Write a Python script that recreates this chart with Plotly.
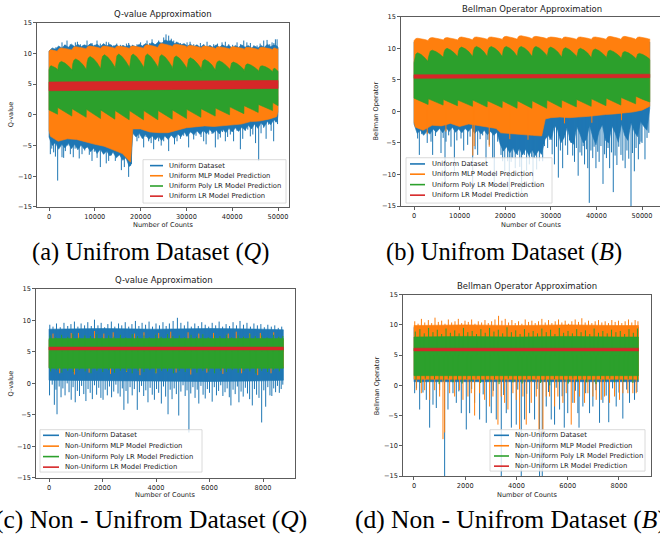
import plotly.graph_objects as go

W, H = 660, 548
BLUE, ORANGE, GREEN, RED = "#1f77b4", "#ff7f0e", "#2ca02c", "#d62728"

# ======================= DATA =======================
# ---- Panel (a): Uniform dataset, Q-value ----
A_CUSPS = [0, 1900, 5030, 8160, 11290, 14420, 17550, 20680, 23810, 26940, 30070, 33200, 36330, 39460, 42590, 45720, 48850]
A_END = 50000
A_PLY_TOP_CUSP = [7.3, 7.2, 7.3, 7.4, 7.5, 7.5, 7.5, 7.5, 7.5, 7.4, 7.4, 7.3, 7.3, 7.2, 7.1, 7.0, 7.0]
A_PLY_TOP_PEAK = [8.0, 8.7, 9.1, 9.5, 9.8, 9.9, 9.9, 9.9, 9.8, 9.6, 9.3, 9.0, 8.8, 8.6, 8.3, 8.0, 7.6]
A_PLY_BOT_START = [0.8, 1.2, 1.0, 0.9, 0.8, 0.7, 0.7, 0.7, 0.7, 0.8, 0.9, 1.0, 1.1, 1.3, 1.5, 1.7, 2.0]
A_PLY_BOT_END = [0.1, -0.2, -0.4, -0.6, -0.7, -0.8, -0.8, -0.8, -0.7, -0.6, -0.4, -0.2, 0.0, 0.2, 0.4, 0.7, 1.5]
A_MLP_TOP_CUSP = [10.3, 10.5, 10.7, 10.8, 10.8, 10.8, 10.8, 10.9, 11.1, 11.1, 10.9, 10.8, 10.7, 10.7, 10.6, 10.6, 10.6]
A_MLP_TOP_PEAK = [10.6, 10.9, 11.1, 11.2, 11.2, 11.2, 11.2, 11.4, 11.6, 11.5, 11.3, 11.2, 11.1, 11.1, 11.0, 11.0, 10.9]
A_X = [0, 300, 2000, 4000, 6000, 8000, 10000, 12000, 14000, 16000, 17800, 18300, 20000, 22000, 24000,
       26000, 28000, 30000, 32000, 34000, 36000, 38000, 40000, 42000, 44000, 46000, 48000, 49700, 50000]
A_MLP_LO = [-2.5, -3.5, -4.3, -3.9, -4.0, -4.4, -4.8, -5.1, -5.7, -6.3, -7.7, -2.3, -2.3, -2.8, -2.9,
            -2.9, -2.5, -2.1, -2.0, -1.8, -1.9, -1.7, -1.6, -1.5, -1.1, -1.0, -0.7, -0.3, 0.5]
A_DS_X = [0, 700, 1400, 2100, 2800, 3500, 4200, 4900, 5600, 6300, 7000, 7700, 8400, 9100, 9800, 10500,
          11200, 11900, 12600, 13300, 14000, 14700, 15400, 16100, 16800, 17500, 17900, 18300, 19000, 19700,
          20400, 21100, 21800, 22500, 23200, 23900, 24600, 25300, 26000, 26700, 27400, 28100, 28800, 29500,
          30200, 30900, 31600, 32300, 33000, 33700, 34400, 35100, 35800, 36500, 37200, 37900, 38600, 39300,
          40000, 40700, 41400, 42100, 42800, 43500, 44200, 44900, 45600, 46300, 47000, 47700, 48400, 49100,
          49800, 50000]
A_DS_HI = [10.4, 10.9, 10.7, 11.2, 10.9, 11.4, 11.0, 11.5, 11.1, 11.5, 11.1, 11.4, 11.2, 11.6, 11.2, 11.5,
           11.1, 11.6, 11.2, 11.5, 11.1, 11.4, 11.0, 11.3, 11.1, 11.4, 11.1, 11.3, 11.1, 11.5,
           11.2, 11.6, 11.3, 11.8, 11.4, 11.9, 11.6, 12.2, 12.0, 12.1, 11.6, 11.8, 11.4, 11.6,
           11.2, 11.5, 11.1, 11.4, 11.0, 11.4, 11.0, 11.3, 11.0, 11.4, 11.0, 11.4, 11.1, 11.3,
           10.9, 11.3, 11.0, 11.4, 11.0, 11.3, 10.9, 11.2, 10.9, 11.3, 11.0, 11.5, 11.1, 11.4,
           11.2, 11.0]
A_DS_LO = [-3.6, -5.0, -4.5, -5.6, -4.8, -5.4, -4.6, -5.5, -4.8, -5.7, -4.9, -5.6, -5.2, -6.0, -5.4, -6.3,
           -5.6, -6.4, -5.9, -6.7, -6.1, -7.0, -6.5, -7.4, -7.0, -8.4, -8.2, -3.0, -3.6, -3.0,
           -3.9, -3.2, -4.0, -3.4, -4.1, -3.5, -4.2, -3.4, -4.0, -3.3, -3.9, -3.1, -3.6, -2.8,
           -3.5, -2.7, -3.3, -2.6, -3.2, -2.5, -3.1, -2.4, -3.0, -2.5, -3.1, -2.3, -2.9, -2.2,
           -2.8, -2.1, -2.7, -2.0, -2.5, -1.7, -2.3, -1.5, -2.2, -1.3, -1.9, -1.1, -1.6, -0.8,
           -1.2, 0.0]
A_LR_X = [0, 10000, 20000, 30000, 40000, 50000]
A_LR_HI = [5.35, 5.4, 5.45, 5.5, 5.55, 5.6]
A_LR_LO = [3.93, 4.0, 4.08, 4.15, 4.22, 4.3]
A_DS_UP = [(1500, 11.0), (2840, 11.8), (3400, 11.4), (3930, 12.1), (4660, 11.5), (5200, 11.2), (5750, 11.8),
           (6200, 11.9), (6840, 11.5), (7500, 11.3), (8300, 12.1), (8900, 11.5), (9390, 11.7), (10000, 11.4),
           (10480, 12.1), (11200, 11.6), (11940, 11.5), (12500, 11.9), (13030, 11.8), (13600, 11.4),
           (14120, 11.3), (14800, 11.6), (15580, 11.4), (16200, 11.3), (16900, 11.6), (17400, 11.7),
           (18200, 11.4), (19220, 11.5), (20000, 11.8), (20700, 11.4), (21400, 12.1), (22000, 11.7),
           (22500, 12.3), (23200, 11.5), (23950, 12.1), (24500, 11.8), (25040, 12.6), (25550, 13.1),
           (26130, 12.9), (26700, 12.4), (27230, 12.1), (27800, 11.9), (28680, 11.7), (29400, 11.5),
           (30140, 11.8), (30800, 11.9), (31600, 11.5), (32300, 11.4), (33050, 11.7), (33800, 11.5),
           (34510, 11.9), (35200, 11.3), (35960, 11.5), (36800, 11.6), (37780, 11.8), (38500, 11.9),
           (39240, 11.5), (40100, 11.4), (41060, 11.8), (41800, 11.5), (42520, 12.1), (43200, 11.8),
           (43970, 11.7), (44700, 11.3), (45430, 11.3), (46100, 11.6), (46880, 12.1), (47610, 12.2),
           (48200, 11.5), (48700, 11.8), (49100, 11.7), (49430, 12.3), (49800, 12.3)]
A_DS_DN = [(150, -3.7), (290, -6.4), (600, -5.5), (1020, -6.1), (1400, -6.8), (1890, -10.7), (2300, -5.2),
           (2840, -6.9), (3200, -7.0), (3570, -5.9), (4100, -5.0), (4660, -6.4), (5300, -6.9), (5700, -5.5),
           (6110, -4.8), (6600, -7.1), (7210, -6.4), (7800, -5.8), (8300, -5.3), (8800, -6.5), (9390, -7.5),
           (9900, -6.0), (10500, -7.0), (11210, -8.5), (11940, -6.4), (12500, -7.9), (13030, -7.5),
           (13600, -6.6), (14480, -7.5), (15210, -5.3), (15800, -9.0), (16450, -8.5), (16900, -7.2),
           (17390, -10.1), (18000, -8.0), (19210, -4.3), (19600, -3.8), (19940, -2.9), (20670, -5.3),
           (21200, -3.6), (21760, -4.3), (22300, -4.6), (22850, -5.6), (23400, -3.5), (23940, -4.3),
           (24500, -5.0), (25040, -4.3), (25600, -3.7), (26130, -5.9), (26860, -3.4), (27400, -4.8),
           (27950, -4.3), (28700, -3.9), (29400, -3.4), (30000, -3.5), (30490, -5.3), (31000, -2.9),
           (31590, -4.0), (32100, -3.4), (32680, -2.8), (33200, -3.6), (33770, -4.3), (34300, -4.8),
           (34860, -3.2), (35600, -3.1), (36320, -5.3), (36900, -4.0), (37410, -3.7), (37900, -2.8),
           (38500, -4.3), (39000, -3.6), (39590, -3.2), (40300, -4.3), (41050, -2.6), (41780, -5.6),
           (42300, -3.9), (42870, -2.6), (43400, -2.4), (43960, -3.5), (44500, -3.2), (45100, -4.6),
           (45780, -7.5), (46300, -3.0), (46870, -2.1), (47400, -3.9), (47960, -1.6), (48500, -2.6),
           (49050, -4.3), (49500, -1.2), (49900, -1.5)]

# ---- Panel (b): Uniform dataset, Bellman operator ----
B_CUSPS = [0, 3140, 6430, 9580, 12870, 16080, 19370, 22650, 25900, 29150, 32400, 35650, 38900, 42150, 45400, 48650]
B_END = 51700
B_PLY_TOP_CUSP = [7.7, 8.5, 8.6, 8.7, 8.7, 8.7, 8.7, 8.7, 8.7, 8.6, 8.6, 8.5, 8.5, 8.4, 8.3, 8.2]
B_PLY_TOP_PEAK = [9.3, 9.7, 10.0, 10.2, 10.3, 10.3, 10.3, 10.3, 10.3, 10.2, 10.1, 10.0, 9.9, 9.7, 9.5, 9.2]
B_PLY_BOT_START = [2.1, 2.0, 1.9, 1.8, 1.8, 1.7, 1.7, 1.7, 1.7, 1.8, 1.8, 1.9, 2.0, 2.1, 2.2, 2.4]
B_PLY_BOT_END = [1.1, 1.0, 0.9, 0.8, 0.7, 0.6, 0.5, 0.5, 0.5, 0.6, 0.7, 0.8, 0.9, 1.0, 1.2, 1.5]
B_MLP_TOP_CUSP = [11.2, 11.3, 11.3, 11.3, 11.4, 11.4, 11.4, 11.5, 11.5, 11.5, 11.4, 11.4, 11.4, 11.4, 11.4, 11.4]
B_MLP_TOP_PEAK = [11.6, 11.7, 11.7, 11.8, 11.8, 11.8, 11.9, 12.0, 11.9, 11.8, 11.8, 11.8, 11.8, 11.9, 11.9, 11.8]
B_X = [0, 300, 2000, 4000, 6000, 8000, 10000, 12000, 14000, 16000, 18000, 19000, 20000, 22000, 24000,
       26000, 28000, 28800, 30000, 32000, 34000, 36000, 38000, 40000, 42000, 44000, 46000, 48000, 50000, 51700]
B_MLP_LO = [-1.7, -2.5, -3.0, -2.2, -2.3, -1.9, -2.4, -2.0, -2.3, -2.5, -2.7, -3.4, -3.5, -3.6, -3.7,
            -3.8, -3.9, -1.2, -1.0, -0.9, -1.0, -0.9, -0.8, -0.7, -0.5, -0.4, -0.3, -0.1, 0.2, 0.8]
B_DS_HI = [11.0, 11.1, 11.0, 11.1, 11.0, 11.1, 11.0, 11.1, 11.2, 11.1, 11.2, 11.1, 11.2, 11.2, 11.3,
           11.2, 11.3, 11.2, 11.2, 11.1, 11.2, 11.1, 11.2, 11.1, 11.2, 11.1, 11.2, 11.1, 11.0, 11.0]
B_DS_LX = [0, 700, 1400, 2100, 2800, 3500, 4200, 4900, 5600, 6300, 7000, 7700, 8400, 9100, 9800, 10500,
           11200, 11900, 12600, 13300, 14000, 14700, 15400, 16100, 16800, 17500, 18200, 18900, 19600, 20300,
           21000, 21700, 22400, 23100, 23800, 24500, 25200, 25900, 26600, 27300, 28000, 28700, 29400, 30100,
           30800, 31500, 32200, 32900, 33600, 34300, 35000, 35700, 36400, 37100, 37800, 38500, 39200, 39900,
           40600, 41300, 42000, 42700, 43400, 44100, 44800, 45500, 46200, 46900, 47600, 48300, 49000, 49700,
           50400, 51100, 51700]
B_DS_LO = [-2.0, -3.5, -3.0, -3.8, -3.2, -3.6, -2.8, -3.3, -2.7, -3.4, -2.6, -3.2, -2.5, -3.3, -2.8, -3.4,
           -2.7, -3.2, -2.6, -3.5, -2.9, -3.6, -3.0, -3.7, -3.2, -3.8, -3.3, -5.2, -6.3, -5.6,
           -6.6, -5.8, -6.8, -5.9, -6.9, -6.0, -7.0, -6.1, -7.0, -6.2, -6.8, -4.5, -3.8, -4.5,
           -2.2, -3.0, -5.0, -4.2, -2.5, -4.8, -5.2, -2.4, -3.6, -5.0, -4.4, -2.2, -4.0, -5.3,
           -3.1, -2.1, -4.6, -5.0, -2.3, -3.4, -4.9, -2.0, -3.8, -4.6, -1.8, -3.2, -4.0, -1.6,
           -2.4, -3.0, 0.5]
B_LR_X = [0, 25000, 51700]
B_LR_HI = [5.8, 5.85, 5.9]
B_LR_LO = [5.25, 5.3, 5.35]
B_DS_DN = [(800, -4.3), (1170, -6.9), (1700, -3.6), (2270, -3.0), (2900, -5.0), (3730, -4.8), (4090, -6.9),
           (4700, -3.9), (5190, -2.9), (5920, -6.6), (6400, -4.2), (6800, -11.5), (7020, -4.8), (7600, -3.8),
           (8110, -5.6), (8850, -9.5), (9400, -4.6), (10310, -4.3), (10900, -6.2), (11770, -5.3),
           (12300, -4.0), (12870, -13.0), (13400, -6.0), (13960, -6.9), (14500, -4.4), (15060, -3.8),
           (15790, -7.9), (16200, -4.5), (16520, -5.3), (17250, -7.4), (17600, -12.0), (18350, -4.8),
           (19080, -6.9), (19440, -7.9), (19900, -9.5), (20540, -7.9), (20900, -12.5), (21300, -8.0),
           (21640, -7.4), (22200, -9.0), (22730, -6.9), (23200, -8.8), (23600, -13.0), (24200, -6.9),
           (24700, -9.4), (25290, -8.4), (25800, -7.2), (26100, -12.0), (26390, -7.4), (26900, -9.2),
           (27490, -7.9), (27900, -6.8), (28220, -7.9), (28600, -5.5), (29310, -5.8), (29800, -4.5),
           (30300, -6.8), (30800, -8.4), (31250, -5.6), (31650, -10.5), (32100, -6.2), (32600, -9.0),
           (33200, -5.4), (33700, -6.9), (34100, -4.6), (34430, -5.0), (34800, -7.0), (35200, -8.0),
           (35600, -5.8), (36000, -10.2), (36400, -6.5), (36800, -7.0), (37100, -5.5), (37400, -8.4),
           (37800, -6.0), (38100, -9.0), (38440, -14.5), (38800, -6.2), (39200, -7.4), (39500, -5.6),
           (39900, -9.0), (40300, -6.4), (40600, -8.0), (41000, -5.5), (41450, -11.5), (41800, -6.8),
           (42200, -7.4), (42550, -5.8), (42900, -9.0), (43300, -6.5), (43700, -12.8), (44100, -7.0),
           (44500, -8.5), (44900, -5.6), (45390, -6.9), (45800, -7.8), (46300, -9.0), (46700, -6.2),
           (47100, -7.5), (47590, -15.0), (47900, -6.6), (48320, -9.5), (48700, -5.8), (49200, -7.6),
           (49500, -5.2), (49780, -4.8), (50000, -5.0), (50650, -7.6), (51100, -4.2), (51500, -3.4)]
B_MLP_DN = [(2900, -3.6), (7000, -3.2), (12900, -7.0), (13200, -5.5), (16500, -5.6), (21000, -4.4),
            (25000, -4.5), (33000, -1.9), (39000, -1.8), (45500, -1.4)]

# ---- Panel (c): Non-uniform dataset, Q-value ----
C_X = [0, 2000, 4000, 6000, 8000, 8760]
C_DS_HI = [8.6, 8.7, 8.6, 8.7, 8.6, 8.5]
C_DS_LO = [0.5, 0.4, 0.4, 0.3, 0.4, 0.5]
C_MLP_HI = [6.9, 6.9, 7.0, 6.9, 6.9, 6.9]
C_MLP_LO = [2.5, 2.5, 2.4, 2.5, 2.5, 2.5]
C_PLY_HI = [7.1, 7.1, 7.2, 7.1, 7.1, 7.1]
C_PLY_LO = [2.4, 2.4, 2.3, 2.4, 2.4, 2.4]
C_LR_HI = [5.75, 5.76, 5.75, 5.76, 5.75, 5.75]
C_LR_LO = [5.3, 5.31, 5.3, 5.31, 5.3, 5.3]
C_DS_UP = [(30, 9.3), (150, 9.0), (280, 9.5), (420, 8.9), (560, 9.6), (700, 9.1), (820, 9.4), (950, 9.8),
           (1080, 9.0), (1200, 9.5), (1330, 9.2), (1450, 9.7), (1580, 9.1), (1700, 10.1), (1830, 9.2),
           (1950, 9.6), (2080, 8.9), (2200, 9.4), (2330, 9.8), (2460, 9.0), (2600, 9.5), (2720, 9.2),
           (2850, 9.7), (2980, 9.0), (3100, 9.4), (3230, 9.9), (3360, 9.1), (3480, 9.6), (3610, 9.3),
           (3740, 9.8), (3870, 9.0), (4000, 9.5), (4130, 9.2), (4260, 9.7), (4380, 9.1), (4500, 9.5),
           (4640, 9.9), (4800, 10.4), (4930, 9.6), (5060, 9.2), (5190, 9.8), (5320, 9.0), (5450, 9.5),
           (5580, 9.1), (5710, 9.7), (5840, 9.3), (5970, 9.0), (6100, 9.6), (6230, 9.2), (6360, 9.8),
           (6490, 9.0), (6620, 9.4), (6750, 9.1), (6880, 9.7), (7010, 9.2), (7140, 9.9), (7270, 9.3),
           (7400, 9.6), (7530, 9.0), (7660, 9.5), (7790, 9.2), (7920, 9.4), (8050, 8.9), (8180, 9.3),
           (8310, 9.0), (8440, 9.2), (8570, 8.8), (8700, 9.0)]
C_DS_DN = [(20, -1.9), (120, -0.2), (200, -3.4), (260, -1.0), (300, -4.9), (380, -0.5), (450, -2.2),
           (520, -0.8), (600, -1.9), (680, 0.0), (750, -1.4), (830, -2.6), (900, -0.6), (980, -3.0),
           (1060, -1.2), (1140, -2.0), (1220, -0.4), (1300, -1.7), (1380, -2.8), (1460, -0.9), (1540, -1.5),
           (1620, -2.5), (1700, -0.3), (1780, -1.8), (1860, -0.7), (1940, -2.3), (2020, -2.6), (2100, -1.0),
           (2180, -1.9), (2260, -0.5), (2340, -2.2), (2420, -1.3), (2500, -0.2), (2580, -1.6), (2660, -2.1),
           (2740, -0.8), (2800, -4.2), (2880, -1.2), (2950, -3.2), (3030, -0.6), (3110, -1.9), (3190, -0.9),
           (3300, -4.2), (3380, -1.4), (3460, -0.4), (3540, -2.0), (3620, -1.1), (3700, -3.0), (3780, -0.7),
           (3860, -1.8), (3940, -2.6), (4020, -0.9), (4100, -1.5), (4200, -3.2), (4280, -0.5), (4360, -2.1),
           (4450, -4.9), (4530, -1.0), (4600, -2.5), (4680, -0.8), (4760, -1.7), (4850, -5.1), (4930, -1.3),
           (5010, -0.3), (5090, -2.0), (5160, -1.1), (5230, -7.8), (5300, -1.6), (5380, -0.6), (5460, -2.3),
           (5540, -1.0), (5600, -3.2), (5680, -0.4), (5760, -1.8), (5840, -2.4), (5920, -0.9), (6000, -1.5),
           (6100, -2.9), (6180, -0.6), (6260, -1.9), (6340, -1.2), (6420, -0.3), (6500, -2.0), (6580, -1.4),
           (6660, -0.8), (6740, -2.2), (6800, -3.5), (6880, -1.0), (6960, -1.7), (7040, -0.5), (7100, -3.0),
           (7180, -1.3), (7260, -2.1), (7340, -0.7), (7420, -1.6), (7500, -2.5), (7600, -3.5), (7680, -0.9),
           (7760, -1.8), (7850, -2.3), (7950, -6.2), (8030, -1.1), (8100, -3.7), (8180, -0.6), (8260, -1.9),
           (8330, -2.0), (8400, -0.8), (8470, -1.4), (8540, -0.4), (8610, -1.5), (8680, -0.9), (8740, -0.2)]
C_MLP_UP = [(150, 7.9), (830, 8.0), (1100, 8.0), (1700, 8.3), (2050, 7.9), (2400, 8.1), (3200, 7.9),
            (3550, 8.1), (4100, 8.0), (4550, 8.2), (5200, 8.1), (5600, 7.9), (6150, 8.0), (6700, 7.9),
            (7000, 8.2), (7500, 7.9), (7900, 8.0), (8400, 8.1)]
C_MLP_DN = [(400, 1.6), (950, 1.4), (1500, 1.7), (2300, 1.5), (2900, 1.8), (3400, 1.3), (4000, 1.6),
            (4750, 1.7), (5300, 1.4), (5900, 1.7), (6500, 1.5), (7200, 1.6), (7800, 1.3), (8300, 1.6)]
C_PLY_UP = [(40, 7.6), (250, 7.3), (470, 7.7), (700, 7.4), (890, 7.8), (1130, 7.3), (1340, 7.6), (1550, 7.5),
            (1790, 7.8), (1990, 7.3), (2230, 7.6), (2430, 7.4), (2670, 7.7), (2870, 7.3), (3110, 7.8),
            (3310, 7.5), (3550, 7.6), (3750, 7.3), (3990, 7.7), (4190, 7.4), (4430, 7.8), (4630, 7.5),
            (4870, 7.6), (5070, 7.3), (5310, 7.7), (5510, 7.4), (5750, 7.8), (5950, 7.3), (6190, 7.6),
            (6390, 7.5), (6630, 7.7), (6830, 7.3), (7070, 7.6), (7270, 7.4), (7510, 7.8), (7710, 7.5),
            (7950, 7.6), (8150, 7.3), (8390, 7.7), (8590, 7.4), (8740, 7.5)]
C_PLY_DN = [(60, 1.9), (270, 2.1), (480, 1.7), (700, 2.0), (910, 1.8), (1130, 2.1), (1350, 1.9), (1570, 1.6),
            (1790, 2.0), (2010, 1.8), (2230, 2.1), (2450, 1.7), (2670, 2.0), (2890, 1.9), (3110, 1.6),
            (3330, 2.0), (3550, 1.8), (3770, 2.1), (3990, 1.7), (4210, 2.0), (4430, 1.9), (4650, 1.6),
            (4870, 2.0), (5090, 1.8), (5310, 2.1), (5530, 1.7), (5750, 2.0), (5970, 1.9), (6190, 1.6),
            (6410, 2.0), (6630, 1.8), (6850, 2.1), (7070, 1.7), (7290, 2.0), (7510, 1.9), (7730, 1.6),
            (7950, 2.0), (8170, 1.8), (8390, 2.1), (8610, 1.9)]

# ---- Panel (d): Non-uniform dataset, Bellman operator ----
D_X = [0, 2000, 4000, 6000, 8000, 8760]
D_DS_HI = [9.6, 9.7, 9.6, 9.7, 9.6, 9.6]
D_DS_LO = [0.6, 0.5, 0.6, 0.5, 0.6, 0.6]
D_MLP_HI = [9.9, 10.0, 9.9, 10.0, 9.9, 9.9]
D_MLP_LO = [1.0, 1.0, 0.9, 1.0, 1.0, 1.0]
D_PLY_HI = [8.0, 8.1, 8.0, 8.1, 8.0, 8.0]
D_PLY_LO = [1.6, 1.6, 1.5, 1.6, 1.6, 1.6]
D_LR_HI = [6.15, 6.16, 6.15, 6.16, 6.15, 6.15]
D_LR_LO = [5.7, 5.71, 5.7, 5.71, 5.7, 5.7]
D_DS_DN = [(26, -1.3), (100, -0.5), (221, -4.0), (350, -1.2), (481, -2.4), (611, -7.0), (741, -3.2),
           (871, -3.75), (1000, -0.8), (1196, -15.5), (1326, -4.0), (1521, -1.3), (1651, -2.9), (1750, -1.0),
           (1846, -4.6), (2041, -7.3), (2171, -4.6), (2250, -0.6), (2366, -2.9), (2561, -5.65), (2700, -1.5),
           (2821, -6.2), (3016, -4.6), (3100, -0.9), (3211, -5.65), (3406, -15.5), (3500, -1.6), (3601, -4.6),
           (3800, -7.0), (3991, -6.5), (4050, -0.7), (4186, -15.5), (4316, -5.65), (4400, -1.4), (4511, -4.6),
           (4706, -5.65), (4800, -0.6), (4901, -15.5), (5005, -15.5), (5161, -3.5), (5250, -1.1), (5356, -5.65),
           (5486, -6.5), (5550, -0.4), (5681, -4.0), (5780, -1.8), (5865, -7.0), (6000, -4.6), (6201, -2.9),
           (6300, -0.9), (6396, -4.6), (6440, -7.0), (6591, -3.5), (6700, -1.3), (6851, -4.6), (6981, -3.5),
           (7100, -0.8), (7241, -6.2), (7371, -2.9), (7500, -1.7), (7600, -6.1), (7750, -0.5), (7891, -3.5),
           (8000, -1.2), (8150, -5.5), (8300, -0.7), (8411, -2.9), (8606, -2.4), (8700, -1.1)]
D_MLP_UP = [(30, 10.6), (160, 10.2), (290, 11.0), (420, 10.4), (560, 10.8), (690, 10.3), (820, 11.2),
            (950, 10.5), (1080, 10.7), (1210, 10.2), (1340, 10.9), (1470, 10.4), (1600, 10.6), (1730, 11.0),
            (1860, 10.3), (1990, 10.7), (2120, 10.5), (2250, 10.9), (2380, 10.2), (2510, 10.6), (2640, 10.4),
            (2770, 10.8), (2900, 10.3), (3030, 10.6), (3160, 10.9), (3300, 11.5), (3430, 10.7), (3560, 11.0),
            (3690, 10.4), (3820, 10.8), (3950, 10.3), (4080, 10.6), (4210, 10.2), (4340, 10.9), (4470, 10.5),
            (4600, 10.7), (4730, 10.3), (4860, 10.6), (4990, 11.0), (5120, 10.4), (5250, 10.8), (5380, 10.3),
            (5510, 10.6), (5640, 10.9), (5770, 10.4), (5900, 10.7), (6030, 10.2), (6160, 10.6), (6290, 10.9),
            (6420, 10.5), (6550, 11.1), (6680, 10.4), (6810, 10.7), (6940, 10.3), (7070, 10.6), (7200, 10.8),
            (7330, 10.4), (7460, 10.6), (7590, 10.3), (7720, 10.8), (7850, 10.5), (7980, 10.7), (8110, 10.3),
            (8240, 10.6), (8370, 10.9), (8500, 10.4), (8630, 10.8), (8740, 10.6)]
D_MLP_DN = [(91, -0.8), (286, -1.3), (416, -0.8), (611, -2.4), (806, -0.8), (1001, -1.85), (1131, -8.9),
            (1196, -7.8), (1391, -1.3), (1586, -1.85), (1781, -0.8), (1911, -2.4), (2106, -1.85), (2236, -1.3),
            (2366, -5.0), (2561, -1.3), (2756, -2.4), (2951, -3.5), (3081, -1.85), (3276, -6.5), (3406, -1.85),
            (3536, -2.9), (3666, -4.0), (3861, -1.3), (3991, -2.4), (4121, -7.3), (4251, -1.85), (4381, -6.5),
            (4576, -2.9), (4771, -1.85), (4877, -7.8), (5033, -7.8), (5161, -1.85), (5291, -1.85), (5486, -3.5),
            (5616, -1.85), (5811, -2.9), (5941, -1.3), (6136, -6.5), (6266, -2.9), (6461, -1.85), (6656, -2.9),
            (6786, -1.3), (6981, -1.85), (7111, -2.4), (7306, -2.4), (7436, -1.85), (7631, -2.9), (7826, -1.85),
            (8021, -2.4), (8151, -1.3), (8346, -1.3), (8541, -1.3), (8671, -1.3)]
D_PLY_UP = [(50, 8.9), (230, 9.3), (400, 8.6), (570, 9.5), (740, 8.8), (910, 9.2), (1080, 8.5), (1250, 9.4),
            (1420, 8.7), (1590, 9.1), (1760, 8.6), (1930, 9.5), (2100, 8.8), (2270, 9.0), (2440, 8.5),
            (2610, 9.3), (2780, 8.7), (2950, 9.5), (3120, 8.9), (3290, 9.2), (3460, 8.6), (3630, 9.6),
            (3800, 8.8), (3970, 9.1), (4140, 8.5), (4310, 9.3), (4480, 8.7), (4650, 9.0), (4820, 8.6),
            (4990, 9.4), (5160, 8.8), (5330, 9.2), (5500, 8.5), (5670, 9.5), (5840, 8.7), (6010, 9.0),
            (6180, 8.6), (6350, 9.3), (6520, 8.8), (6690, 9.1), (6860, 8.5), (7030, 9.4), (7200, 8.7),
            (7370, 9.0), (7540, 8.6), (7710, 9.2), (7880, 8.8), (8050, 9.0), (8220, 8.5), (8390, 9.3),
            (8560, 8.7), (8720, 9.4)]
D_PLY_DN = [(80, 0.9), (260, 0.4), (440, 1.1), (620, 0.6), (800, 1.0), (980, 0.2), (1160, 0.8), (1340, 1.1),
            (1520, 0.5), (1700, 0.9), (1880, 0.3), (2060, 1.0), (2240, 0.7), (2420, 1.1), (2600, 0.4),
            (2780, 0.9), (2960, 0.6), (3140, 1.0), (3320, 0.2), (3500, 0.8), (3680, 1.1), (3860, 0.5),
            (4040, 0.9), (4220, 0.3), (4400, 1.0), (4580, 0.7), (4760, 1.1), (4940, 0.4), (5120, 0.9),
            (5300, 0.0), (5480, 1.0), (5660, 0.6), (5840, 0.9), (6020, 0.3), (6200, 1.1), (6380, 0.7),
            (6560, 1.0), (6740, 0.5), (6920, 0.9), (7100, 0.2), (7280, 1.0), (7460, 0.7), (7640, 1.1),
            (7820, 0.5), (8000, 0.9), (8180, 0.6), (8360, 1.0), (8540, 0.4), (8720, 0.8)]

LEG_UNI = ["Uniform Dataset", "Uniform MLP Model Prediction", "Uniform Poly LR Model Prediction",
           "Uniform LR Model Prediction"]
LEG_NON = ["Non-Uniform Dataset", "Non-Uniform MLP Model Prediction", "Non-Uniform Poly LR Model Prediction",
           "Non-Uniform LR Model Prediction"]
X_TICKS_U = [0, 10000, 20000, 30000, 40000, 50000]
X_TICKS_N = [0, 2000, 4000, 6000, 8000]
Y_TICKS = [-15, -10, -5, 0, 5, 10, 15]

# ======================= HELPERS =======================
TOP_SHAPE = [(0.0, 0.0), (0.05, 0.55), (0.13, 0.88), (0.26, 1.0), (0.5, 0.82), (0.75, 0.5), (0.97, 0.15)]
BOT_SHAPE = [(0.0, 0.0), (0.5, 0.55), (0.985, 1.0)]


def dome_edge(cusps, end, a_vals, b_vals, shape, end_val):
    xs, ys = [], []
    for i, c0 in enumerate(cusps):
        c1 = cusps[i + 1] if i + 1 < len(cusps) else end
        w = c1 - c0
        for f, r in shape:
            xs.append(c0 + f * w)
            ys.append(a_vals[i] + r * (b_vals[i] - a_vals[i]))
    xs.append(end)
    ys.append(end_val)
    return xs, ys


def band(hx, hy, lx, ly, color, ax):
    xs = list(hx) + list(lx)[::-1] + [hx[0]]
    ys = list(hy) + list(ly)[::-1] + [hy[0]]
    return go.Scatter(x=xs, y=ys, mode="lines", fill="toself", fillcolor=color,
                      line=dict(color=color, width=0.6), xaxis=ax[0], yaxis=ax[1],
                      showlegend=False, hoverinfo="skip")


def spikes(pairs, base, color, ax, width=1.0):
    xs, ys = [], []
    for x, tip in pairs:
        xs += [x, x, None]
        ys += [base, tip, None]
    return go.Scatter(x=xs, y=ys, mode="lines", line=dict(color=color, width=width),
                      xaxis=ax[0], yaxis=ax[1], showlegend=False, hoverinfo="skip")


fig = go.Figure()

# ----- panel a -----
ax = ("x", "y")
fig.add_trace(band(A_DS_X, A_DS_HI, A_DS_X, A_DS_LO, BLUE, ax))
fig.add_trace(spikes(A_DS_UP, 8, BLUE, ax))
fig.add_trace(spikes(A_DS_DN, 3, BLUE, ax))
mx, my = dome_edge(A_CUSPS, A_END, A_MLP_TOP_CUSP, A_MLP_TOP_PEAK, TOP_SHAPE, 10.8)
fig.add_trace(band(mx, my, A_X, A_MLP_LO, ORANGE, ax))
gx, gy = dome_edge(A_CUSPS, A_END, A_PLY_TOP_CUSP, A_PLY_TOP_PEAK, TOP_SHAPE, 7.1)
bx, by = dome_edge(A_CUSPS, A_END, A_PLY_BOT_START, A_PLY_BOT_END, BOT_SHAPE, 1.5)
fig.add_trace(band(gx, gy, bx, by, GREEN, ax))
fig.add_trace(band(A_LR_X, A_LR_HI, A_LR_X, A_LR_LO, RED, ax))

# ----- panel b -----
ax = ("x2", "y2")
fig.add_trace(band(B_X, B_DS_HI, B_DS_LX, B_DS_LO, BLUE, ax))
fig.add_trace(spikes(B_DS_DN, 3, BLUE, ax))
mx, my = dome_edge(B_CUSPS, B_END, B_MLP_TOP_CUSP, B_MLP_TOP_PEAK, TOP_SHAPE, 11.5)
fig.add_trace(band(mx, my, B_X, B_MLP_LO, ORANGE, ax))
fig.add_trace(spikes(B_MLP_DN, 3, ORANGE, ax))
gx, gy = dome_edge(B_CUSPS, B_END, B_PLY_TOP_CUSP, B_PLY_TOP_PEAK, TOP_SHAPE, 8.1)
bx, by = dome_edge(B_CUSPS, B_END, B_PLY_BOT_START, B_PLY_BOT_END, BOT_SHAPE, 1.5)
fig.add_trace(band(gx, gy, bx, by, GREEN, ax))
fig.add_trace(band(B_LR_X, B_LR_HI, B_LR_X, B_LR_LO, RED, ax))

# ----- panel c -----
ax = ("x3", "y3")
fig.add_trace(band(C_X, C_DS_HI, C_X, C_DS_LO, BLUE, ax))
fig.add_trace(spikes(C_DS_UP, 6, BLUE, ax))
fig.add_trace(spikes(C_DS_DN, 3, BLUE, ax))
fig.add_trace(band(C_X, C_MLP_HI, C_X, C_MLP_LO, ORANGE, ax))
fig.add_trace(spikes(C_MLP_UP, 5, ORANGE, ax))
fig.add_trace(spikes(C_MLP_DN, 5, ORANGE, ax))
fig.add_trace(band(C_X, C_PLY_HI, C_X, C_PLY_LO, GREEN, ax))
fig.add_trace(spikes(C_PLY_UP, 5, GREEN, ax))
fig.add_trace(spikes(C_PLY_DN, 5, GREEN, ax))
fig.add_trace(band(C_X, C_LR_HI, C_X, C_LR_LO, RED, ax))

# ----- panel d -----
ax = ("x4", "y4")
fig.add_trace(band(D_X, D_DS_HI, D_X, D_DS_LO, BLUE, ax))
fig.add_trace(spikes(D_DS_DN, 3, BLUE, ax))
fig.add_trace(band(D_X, D_MLP_HI, D_X, D_MLP_LO, ORANGE, ax))
fig.add_trace(spikes(D_MLP_UP, 5, ORANGE, ax))
fig.add_trace(spikes(D_MLP_DN, 5, ORANGE, ax))
fig.add_trace(band(D_X, D_PLY_HI, D_X, D_PLY_LO, GREEN, ax))
fig.add_trace(spikes(D_PLY_UP, 5, GREEN, ax))
fig.add_trace(spikes(D_PLY_DN, 5, GREEN, ax))
fig.add_trace(band(D_X, D_LR_HI, D_X, D_LR_LO, RED, ax))

# ======================= LAYOUT =======================
def px(x):
    return x / W


def py(y):
    return 1 - y / H


TICKFONT = dict(family="DejaVu Sans", size=6.6, color="#222")


def xaxis(dom, rng, ticks, anchor):
    return dict(domain=[px(dom[0]), min(1.0, px(dom[1]))], range=rng, tickvals=ticks, tickformat="d",
                anchor=anchor, showline=True, linecolor="#333", linewidth=0.8, mirror=True,
                ticks="outside", ticklen=3, tickwidth=0.8, tickcolor="#333", tickfont=TICKFONT,
                showgrid=False, zeroline=False)


def yaxis(dom, anchor, mirror=True):
    return dict(domain=[py(dom[1]), py(dom[0])], range=[-15, 15], tickvals=Y_TICKS,
                anchor=anchor, showline=True, linecolor="#333", linewidth=0.8, mirror=mirror,
                ticks="outside", ticklen=3, tickwidth=0.8, tickcolor="#333", tickfont=TICKFONT,
                showgrid=False, zeroline=False)


layout = dict(
    width=W, height=H, margin=dict(l=0, r=0, t=0, b=0), paper_bgcolor="white", plot_bgcolor="white",
    showlegend=False,
    xaxis=xaxis((37, 289), [-2620, 52400], X_TICKS_U, "y"),
    yaxis=yaxis((19, 206), "x"),
    xaxis2=xaxis((401, 660), [-2851, 53947], X_TICKS_U, "y2"),
    yaxis2=yaxis((13, 205), "x2", mirror=False),
    xaxis3=xaxis((36, 295), [-486, 9196], X_TICKS_N, "y3"),
    yaxis3=yaxis((289, 481), "x3"),
    xaxis4=xaxis((403, 651), [-429, 9249], X_TICKS_N, "y4"),
    yaxis4=yaxis((295, 479), "x4"),
)

ann = []
shapes = []


def text(x, y, s, size, family="DejaVu Sans", angle=0, xanchor="center", color="#222"):
    ann.append(dict(x=px(x), y=py(y), xref="paper", yref="paper", text=s, showarrow=False,
                    xanchor=xanchor, yanchor="middle", textangle=angle,
                    font=dict(family=family, size=size, color=color)))


# titles
text(163, 10, "Q-value Approximation", 8.5)
text(532, 5, "Bellman Operator Approximation", 8.5)
text(164, 280, "Q-value Approximation", 8.5)
text(527, 286, "Bellman Operator Approximation", 8.5)
# axis labels
for (x, y) in [(163, 224), (531, 224), (165, 498), (527, 498)]:
    text(x, y, "Number of Counts", 6.6)
text(11, 112, "Q-value", 6.6, angle=-90)
text(376, 109, "Bellman Operator", 6.6, angle=-90)
text(11, 385, "Q-value", 6.6, angle=-90)
text(377, 388, "Bellman Operator", 6.6, angle=-90)

# captions
SERIF = "Liberation Serif"
text(150, 252, "(a) Unifrom Dataset (<i>Q</i>)", 24.5, family=SERIF, color="black")
text(504, 252, "(b) Unifrom Dataset (<i>B</i>)", 24.5, family=SERIF, color="black")
text(151, 523, "(c) Non - Unifrom Dataset (<i>Q</i>)", 25.5, family=SERIF, color="black")
text(510, 523, "(d) Non - Unifrom Dataset (<i>B</i>)", 25.5, family=SERIF, color="black")

# legends (matplotlib-style boxes)
COLORS = [BLUE, ORANGE, GREEN, RED]


def legend(box, ys, lx0, lx1, tx, labels):
    shapes.append(dict(type="rect", xref="paper", yref="paper", x0=px(box[0]), x1=px(box[2]),
                       y0=py(box[3]), y1=py(box[1]), line=dict(color="#d0d0d0", width=0.8),
                       fillcolor="rgba(255,255,255,0.8)", layer="above"))
    for y, lab, col in zip(ys, labels, COLORS):
        shapes.append(dict(type="line", xref="paper", yref="paper", x0=px(lx0), x1=px(lx1),
                           y0=py(y), y1=py(y), line=dict(color=col, width=1.6), layer="above"))
        text(tx, y, lab, 6.8, xanchor="left")


legend((143, 158, 286, 202), [164, 174.3, 184.7, 195], 150, 163, 167, LEG_UNI)
legend((406, 156, 552, 202), [162.3, 172.7, 183.3, 194], 410, 425, 430, LEG_UNI)
legend((40, 432, 202, 475), [437.7, 448.7, 459.3, 470], 43, 59, 63, LEG_NON)
legend((490, 432, 645, 474), [437.7, 448.3, 458.7, 469], 494, 509, 513, LEG_NON)

layout["annotations"] = ann
layout["shapes"] = shapes
fig.update_layout(**layout)
fig.write_html("out.html", config={"displayModeBar": False, "staticPlot": True},
               post_script="document.body.style.margin='0px';document.body.style.overflow='hidden';")
